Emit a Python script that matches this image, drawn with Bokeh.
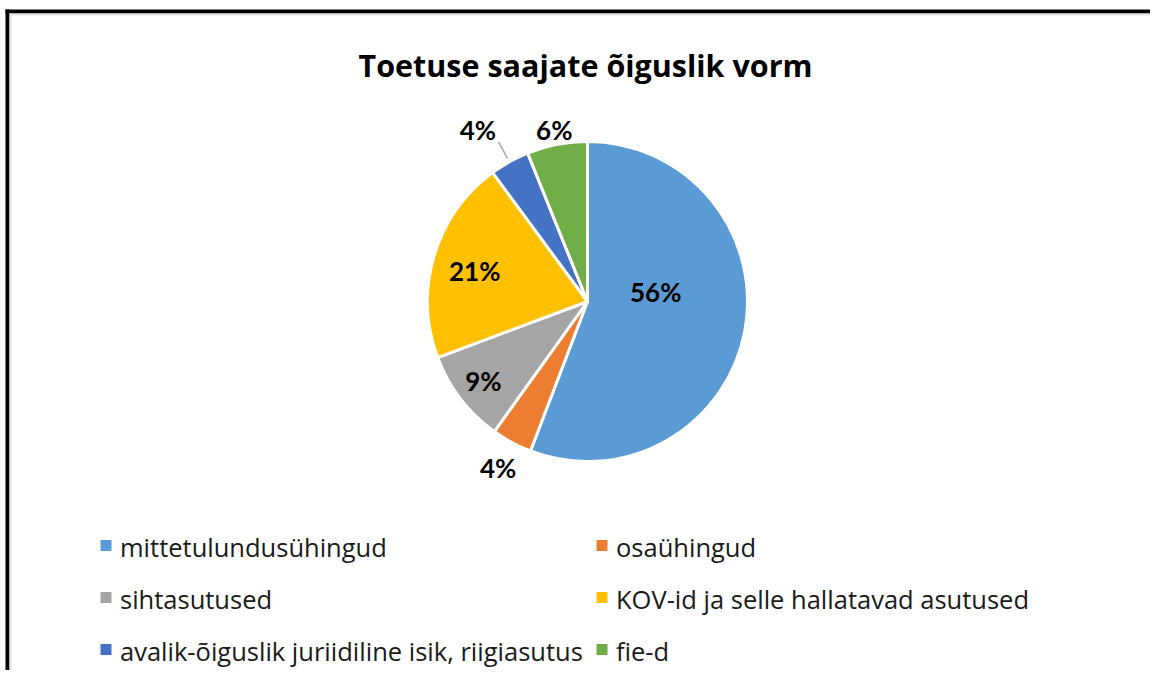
import math
from bokeh.plotting import figure
from bokeh.models import Range1d, ColumnDataSource
from bokeh.core.properties import value
from bokeh.embed import file_html
from bokeh.resources import INLINE

# ---- data ----
categories = ["mittetulundusühingud", "osaühingud", "sihtasutused",
              "KOV-id ja selle hallatavad asutused",
              "avalik-õiguslik juriidiline isik, riigiasutus", "fie-d"]
shares = [55.8, 4.1, 9.4, 20.6, 4.0, 6.1]
colors = ["#5B9BD5", "#ED7D31", "#A5A5A5", "#FFC000", "#4472C4", "#70AD47"]
title_text = "Toetuse saajate õiguslik vorm"

# ---- style / layout ----
W, H = 1150, 670
CX, CY, R = 587, 301, 160
label_rf = [0.43, 1.18, 0.82, 0.73, 1.27, 1.09]
label_doff = [-18, 0, 0, -1.5, -3.5, 0]
LABEL_FONT = "Lato"
TEXT_FONT = "Open Sans"

p = figure(width=W, height=H, x_range=Range1d(0, W), y_range=Range1d(-H, 0),
           output_backend="svg", toolbar_location=None, min_border=0,
           x_axis_location=None, y_axis_location=None)
p.grid.visible = False
p.outline_line_color = None
p.background_fill_color = "white"

# frame lines
p.quad(left=[5, 9], right=[W, W], top=[-9, -13], bottom=[-13, -15],
       fill_color=["#000000", "#E3E3E3"], line_color=None)
p.quad(left=[5, 9], right=[9, 11], top=[-9, -13], bottom=[-H, -H],
       fill_color=["#000000", "#E3E3E3"], line_color=None)

# pie
total = sum(shares)
cum = 0.0
starts, ends, mids = [], [], []
for s in shares:
    a0 = cum / total * 2 * math.pi
    cum += s
    a1 = cum / total * 2 * math.pi
    starts.append(math.pi / 2 - a0)
    ends.append(math.pi / 2 - a1)
    mids.append((a0 + a1) / 2)

src = ColumnDataSource(dict(start=starts, end=ends, color=colors, cat=categories))
p.wedge(x=CX, y=-CY, radius=R, start_angle="start", end_angle="end", direction="clock",
        fill_color="color", line_color="white", line_width=3, source=src)

# labels
lx, ly, lt = [], [], []
for i, s in enumerate(shares):
    ang = mids[i] + math.radians(label_doff[i])
    r = R * label_rf[i]
    lx.append(CX + r * math.sin(ang))
    ly.append(-CY + r * math.cos(ang))
    lt.append(f"{round(s)}%")
p.text(x=lx, y=ly, text=lt, text_align="center", text_baseline="middle",
       text_font=value(LABEL_FONT), text_font_style="bold", text_font_size="26px",
       text_color="#000000")

# leader line for the small blue slice
i = 4
ang = mids[i]
p.line(x=[CX + R * 1.025 * math.sin(ang), CX + R * 1.14 * math.sin(ang)],
       y=[-CY + R * 1.025 * math.cos(ang), -CY + R * 1.14 * math.cos(ang)],
       line_color="#A6A6A6", line_width=1.5)

# title
p.text(x=[585], y=[-64], text=[title_text], text_align="center", text_baseline="alphabetic",
       text_font=value(TEXT_FONT), text_font_style="bold", text_font_size="30.5px",
       text_color="#000000")

# legend (2 columns, row-major)
col_x = [105.5, 601.5]
row_y = [545, 597, 649]
sq = 11
qx, qy, tx, ty = [], [], [], []
for k, cat in enumerate(categories):
    cx = col_x[k % 2]
    cy = row_y[k // 2]
    qx.append(cx)
    qy.append(-cy)
    tx.append(cx + 14)
    ty.append(-cy - 1)
p.rect(x=qx, y=qy, width=sq, height=sq, fill_color=colors, line_color=None)
p.text(x=tx, y=ty, text=categories, text_align="left", text_baseline="middle",
       text_font=value(TEXT_FONT), text_font_size="25.5px", text_color="#1a1a1a")

open("out.html", "w").write(file_html(p, INLINE))
